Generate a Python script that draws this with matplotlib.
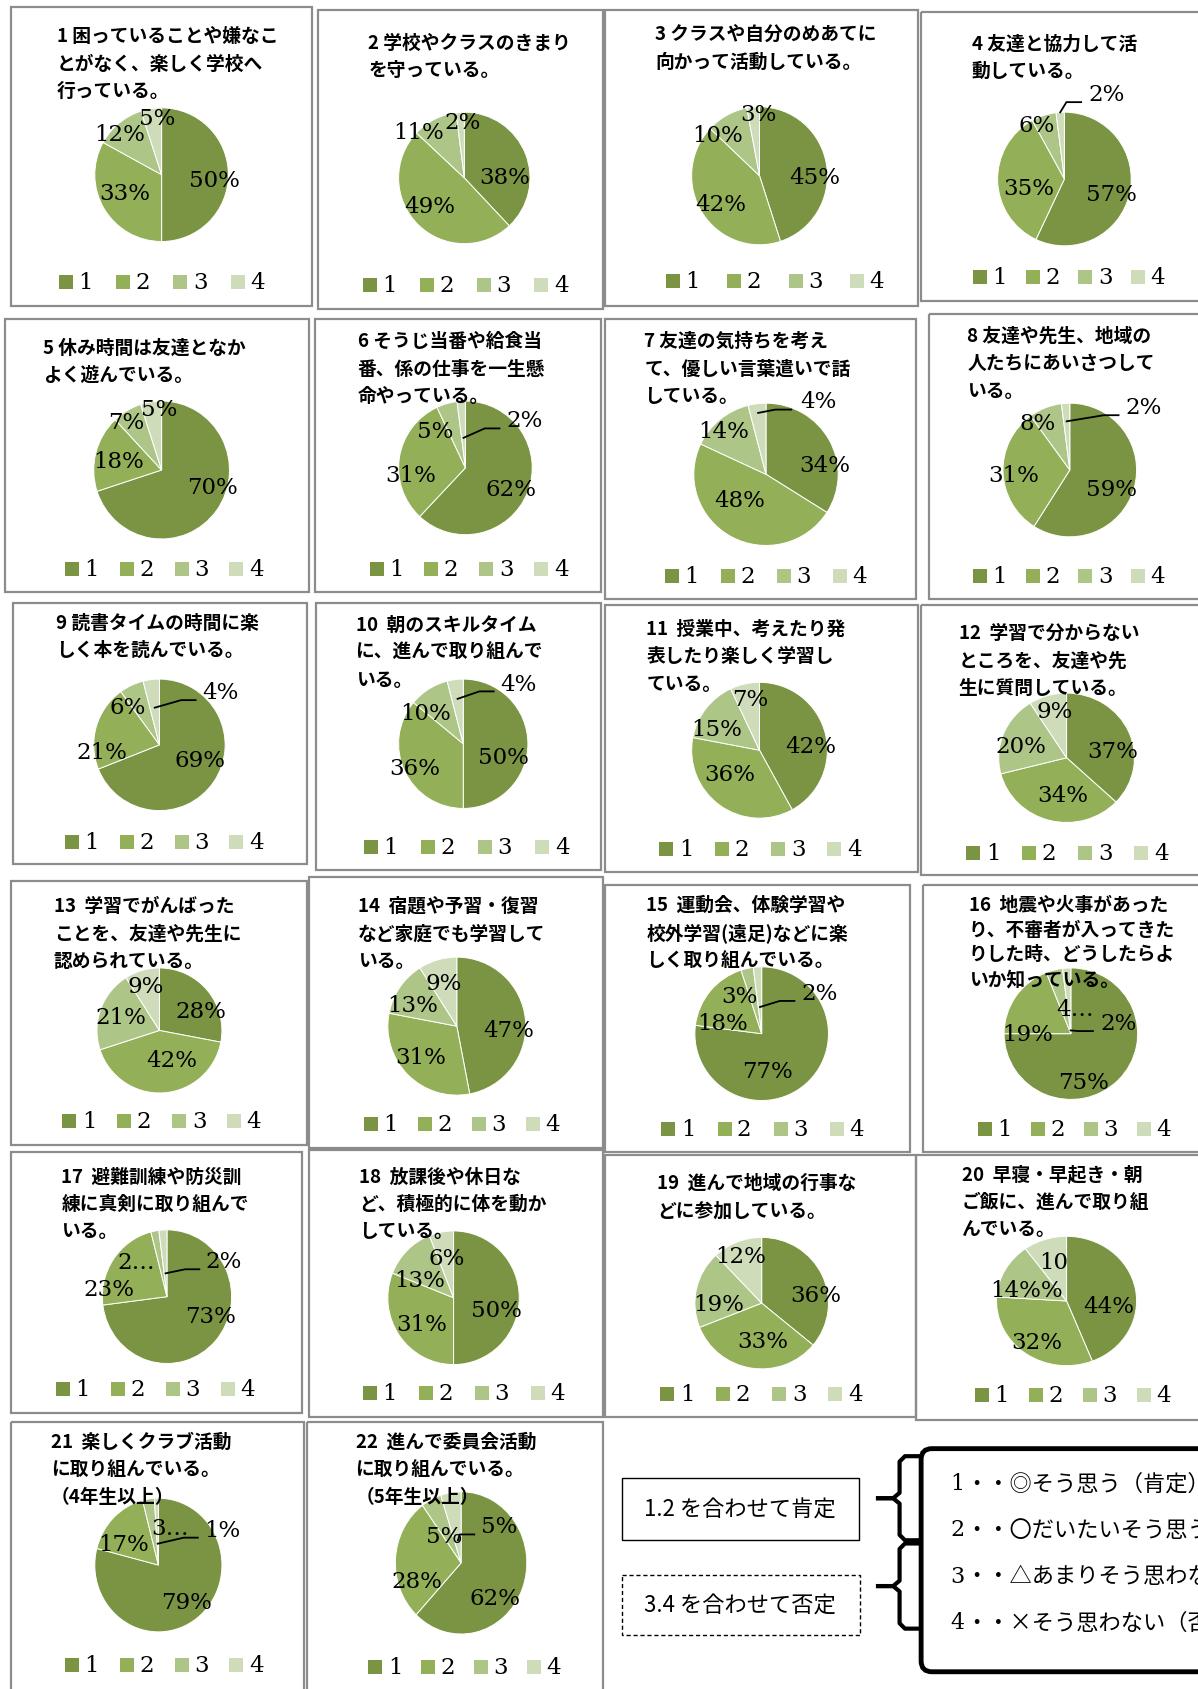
import matplotlib.pyplot as plt
import numpy as np
from matplotlib.patches import Rectangle, FancyBboxPatch

plt.rcParams['font.family'] = ['Noto Sans CJK JP', 'DejaVu Sans']

# ---- survey data: share of answers 1..4 for each question (%) ----
answers = ['1', '2', '3', '4']
colors = ['#7A9443', '#93AF58', '#AEC588', '#CEDCBA']

questions = [
    '1 困っていることや嫌なこ\nとがなく、楽しく学校へ\n行っている。',
    '2 学校やクラスのきまり\nを守っている。',
    '3 クラスや自分のめあてに\n向かって活動している。',
    '4 友達と協力して活\n動している。',
    '5 休み時間は友達となか\nよく遊んでいる。',
    '6 そうじ当番や給食当\n番、係の仕事を一生懸\n命やっている。',
    '7 友達の気持ちを考え\nて、優しい言葉遣いで話\nしている。',
    '8 友達や先生、地域の\n人たちにあいさつして\nいる。',
    '9 読書タイムの時間に楽\nしく本を読んでいる。',
    '10  朝のスキルタイム\nに、進んで取り組んで\nいる。',
    '11  授業中、考えたり発\n表したり楽しく学習し\nている。',
    '12  学習で分からない\nところを、友達や先\n生に質問している。',
    '13  学習でがんばった\nことを、友達や先生に\n認められている。',
    '14  宿題や予習・復習\nなど家庭でも学習して\nいる。',
    '15  運動会、体験学習や\n校外学習(遠足)などに楽\nしく取り組んでいる。',
    '16  地震や火事があった\nり、不審者が入ってきた\nりした時、どうしたらよ\nいか知っている。',
    '17  避難訓練や防災訓\n練に真剣に取り組んで\nいる。',
    '18  放課後や休日な\nど、積極的に体を動か\nしている。',
    '19  進んで地域の行事な\nどに参加している。',
    '20  早寝・早起き・朝\nご飯に、進んで取り組\nんでいる。',
    '21  楽しくクラブ活動\nに取り組んでいる。\n（4年生以上）',
    '22  進んで委員会活動\nに取り組んでいる。\n（5年生以上）',
]
share_1 = [50, 38, 45, 57, 70, 62, 34, 59, 69, 50, 42, 37, 28, 47, 77, 75, 73, 50, 36, 44, 79, 62]
share_2 = [33, 49, 42, 35, 18, 31, 48, 31, 21, 36, 36, 34, 42, 31, 18, 19, 23, 31, 33, 32, 17, 28]
share_3 = [12, 11, 10, 6, 7, 5, 14, 8, 6, 10, 15, 20, 21, 13, 3, 4, 2, 13, 19, 14, 3, 5]
share_4 = [5, 2, 3, 2, 5, 2, 4, 2, 4, 4, 7, 9, 9, 9, 2, 2, 2, 6, 12, 10, 1, 5]

# labels that Excel cut short in the original sheet
short_labels = {(15, 2): '4…', (16, 2): '2…', (20, 2): '3…', (19, 3): '10', (19, 2): '14%%'}

legend_notes = ['1・・◎そう思う（肯定）', '2・・〇だいたいそう思う', '3・・△あまりそう思わない', '4・・×そう思わない（否定）']

# ---- layout, measured on a 1112 x 1568 copy of the page ----
W, H = 1112, 1568
# frame box, title start, pie centre + radii, legend start, legend step
panels = [
    ((10, 7, 290, 285), (53, 34), (150, 163, 62, 62), (55, 263), 53),
    ((295, 10, 560, 288), (342, 40), (431, 166, 61, 61), (337, 265), 53),
    ((562, 10, 852, 285), (608, 32), (705, 164, 63, 64), (618, 262), 57),
    ((855, 12, 1125, 280), (902, 41), (988, 167, 62, 62), (903, 258), 49),
    ((5, 297, 287, 550), (40, 323), (150, 437, 63, 64), (60, 529), 51),
    ((292, 297, 558, 550), (332, 317), (432, 435, 62, 62), (343, 529), 51),
    ((562, 297, 850, 557), (598, 317), (711, 441, 67, 66), (617, 535), 52),
    ((862, 292, 1125, 557), (898, 312), (993, 437, 62, 62), (903, 535), 49),
    ((12, 560, 285, 803), (52, 578), (148, 692, 61, 61), (60, 782), 51),
    ((293, 560, 558, 808), (330, 580), (430, 691, 60, 60), (338, 787), 53),
    ((562, 562, 852, 810), (600, 584), (705, 697, 63, 63), (612, 789), 52),
    ((855, 562, 1125, 813), (890, 588), (990, 704, 63, 60), (897, 792), 52),
    ((10, 818, 285, 1063), (50, 841), (148, 957, 58, 58), (58, 1041), 51),
    ((287, 815, 560, 1066), (332, 841), (424, 953, 64, 64), (338, 1044), 50),
    ((562, 822, 845, 1070), (600, 840), (707, 960, 62, 62), (614, 1048), 52),
    ((857, 822, 1125, 1070), (899, 840), (994, 960, 62, 61), (908, 1048), 49),
    ((10, 1070, 280, 1312), (57, 1092), (155, 1204, 60, 62), (52, 1290), 51),
    ((287, 1068, 560, 1316), (333, 1092), (421, 1205, 61, 62), (337, 1293), 52),
    ((562, 1073, 850, 1316), (610, 1098), (707, 1210, 62, 61), (613, 1294), 52),
    ((850, 1073, 1125, 1318), (893, 1090), (990, 1208, 65, 60), (905, 1295), 50),
    ((10, 1320, 282, 1590), (47, 1338), (147, 1453, 59, 62), (60, 1546), 51),
    ((285, 1320, 560, 1590), (330, 1338), (428, 1451, 61, 66), (342, 1548), 49),
]
# where Excel put each percentage (pie radius units, y up)
label_xy = [
    [(0.79, -0.08), (-0.55, -0.27), (-0.63, 0.61), (-0.06, 0.85)],
    [(0.61, 0.02), (-0.52, -0.43), (-0.69, 0.70), (-0.03, 0.85)],
    [(0.81, -0.02), (-0.57, -0.41), (-0.62, 0.59), (-0.02, 0.89)],
    [(0.71, -0.23), (-0.53, -0.13), (-0.42, 0.81), (0.63, 1.27)],
    [(0.75, -0.24), (-0.63, 0.13), (-0.52, 0.70), (-0.03, 0.89)],
    [(0.68, -0.31), (-0.82, -0.10), (-0.45, 0.55), (0.89, 0.71)],
    [(0.82, 0.13), (-0.37, -0.36), (-0.58, 0.61), (0.73, 1.03)],
    [(0.63, -0.29), (-0.84, -0.08), (-0.48, 0.71), (1.11, 0.94)],
    [(0.62, -0.23), (-0.87, -0.11), (-0.49, 0.57), (0.93, 0.80)],
    [(0.62, -0.20), (-0.75, -0.37), (-0.58, 0.47), (0.85, 0.93)],
    [(0.75, 0.06), (-0.44, -0.35), (-0.63, 0.32), (-0.13, 0.75)],
    [(0.68, 0.10), (-0.06, -0.57), (-0.68, 0.18), (-0.17, 0.73)],
    [(0.67, 0.31), (0.19, -0.48), (-0.62, 0.21), (-0.22, 0.71)],
    [(0.75, -0.06), (-0.52, -0.44), (-0.64, 0.30), (-0.19, 0.62)],
    [(0.08, -0.56), (-0.58, 0.16), (-0.34, 0.56), (0.87, 0.61)],
    [(0.19, -0.74), (-0.65, 0.00), (0.06, 0.37), (0.71, 0.16)],
    [(0.68, -0.29), (-0.90, 0.11), (-0.47, 0.52), (0.88, 0.53)],
    [(0.66, -0.18), (-0.48, -0.40), (-0.52, 0.27), (-0.11, 0.60)],
    [(0.81, 0.13), (0.02, -0.57), (-0.65, -0.02), (-0.31, 0.72)],
    [(0.60, -0.07), (-0.43, -0.63), (-0.57, 0.17), (-0.18, 0.60)],
    [(0.44, -0.56), (-0.54, 0.32), (0.19, 0.56), (1.00, 0.53)],
    [(0.52, -0.50), (-0.67, -0.26), (-0.25, 0.38), (0.58, 0.52)],
]
# charts whose last slice has a leader line: radius where the line starts
leaders = {3: 1.0, 5: 0.45, 6: 0.87, 7: 0.73, 8: 0.57, 9: 0.7, 14: 0.4, 15: 0.05,
           16: 0.35, 20: 0.32, 21: 0.32}

fig = plt.figure(figsize=(11.98, 16.90), dpi=100)
ax0 = fig.add_axes([0, 0, 1, 1])
ax0.set_xlim(0, W)
ax0.set_ylim(H, 0)
ax0.axis('off')

serif = ['DejaVu Serif', 'Noto Sans CJK JP']

for i, (frame, (tx, ty), (cx, cy, rx, ry), (lx, ly), step) in enumerate(panels):
    x0, y0, x1, y1 = frame
    ax0.add_patch(Rectangle((x0, y0), x1 - x0, y1 - y0, fill=False, ec='#8c8c8c', lw=1.6))

    gap = 23 if i == 15 else 25.5
    for k, line in enumerate(questions[i].split('\n')):
        fig.text(tx, ty + k * gap, line, transform=ax0.transData, fontsize=13.5,
                 weight='bold', va='center', ha='left', zorder=10)

    for j, name in enumerate(answers):
        ax0.add_patch(Rectangle((lx + j * step, ly - 6.5), 13, 13, color=colors[j], lw=0))
        ax0.text(lx + j * step + 18, ly, name, fontsize=16.5, family=serif, va='center', ha='left')

    vals = [share_1[i], share_2[i], share_3[i], share_4[i]]
    ax = fig.add_axes([(cx - rx) / W, 1 - (cy + ry) / H, 2 * rx / W, 2 * ry / H])
    ax.pie(vals, colors=colors, startangle=90, counterclock=False, radius=1,
           wedgeprops=dict(edgecolor='white', linewidth=0.7))
    ax.set_aspect('auto')
    ax.set_xlim(-1, 1)
    ax.set_ylim(-1, 1)
    ax.axis('off')

    cum = np.cumsum([0] + vals)
    for j, v in enumerate(vals):
        px, py = label_xy[i][j]
        label = short_labels.get((i, j), f'{v}%')
        if j == 3 and i in leaders:
            mid = (cum[j] + v / 2) / 100 * 2 * np.pi
            rs = leaders[i]
            sx, sy = np.sin(mid) * rs, np.cos(mid) * rs
            ex, ey = px - 0.38, py - 0.12
            ax.plot([sx, ex - 0.22, ex], [sy, ey, ey], color='black', lw=1.3, clip_on=False)
        ax.text(px, py, label, fontsize=16.5, family=serif, ha='center', va='center')

# ---- key at the bottom right ----
ax0.add_patch(Rectangle((577, 1372), 220, 58, fill=False, ec='black', lw=1))
ax0.text(687, 1401, '1.2 を合わせて肯定', fontsize=16, ha='center', va='center')
ax0.add_patch(Rectangle((577, 1462), 221, 56, fill=False, ec='black', lw=1, ls=(0, (3, 2))))
ax0.text(687, 1490, '3.4 を合わせて否定', fontsize=16, ha='center', va='center')

for ya, yb in [(1352, 1430), (1433, 1512)]:
    ym = (ya + yb) / 2
    ax0.plot([852, 840, 835, 835, 829, 815], [ya, ya, ya + 5, ym - 5, ym, ym], color='black', lw=3)
    ax0.plot([815, 829, 835, 835, 840, 852], [ym, ym, ym + 5, yb - 5, yb, yb], color='black', lw=3)

ax0.add_patch(FancyBboxPatch((855, 1345), 320, 207, boxstyle='round,pad=0,rounding_size=10',
                             fc='white', ec='black', lw=3.5))
for k, note in enumerate(legend_notes):
    y = 1377 + k * 43
    ax0.text(882, y, note[0], fontsize=16, family='DejaVu Serif', va='center', ha='left')
    ax0.text(896, y, note[1:], fontsize=16, va='center', ha='left')

fig.savefig('out.png', dpi=100)
